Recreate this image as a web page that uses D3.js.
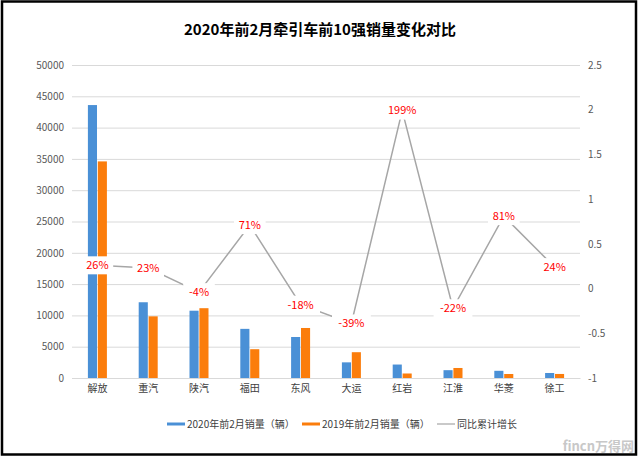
<!DOCTYPE html>
<html><head><meta charset="utf-8">
<script src="https://cdn.jsdelivr.net/npm/d3@7"></script>
<style>body{margin:0;background:#fff;}svg{display:block;}</style>
</head><body>
<svg id="c" width="640" height="458"></svg>
<script>
const categories = ["解放","重汽","陕汽","福田","东风","大运","红岩","江淮","华菱","徐工"];
const sales2020 = [43600,12100,10750,7850,6550,2500,2150,1250,1150,800];
const sales2019 = [34600,9850,11150,4600,7990,4120,720,1600,640,645];
const growth = [0.26,0.23,-0.04,0.71,-0.18,-0.39,1.99,-0.22,0.81,0.24];
const growthLabels = ["26%","23%","-4%","71%","-18%","-39%","199%","-22%","81%","24%"];
const leftTicks = [0,5000,10000,15000,20000,25000,30000,35000,40000,45000,50000];
const rightTicks = [-1,-0.5,0,0.5,1,1.5,2,2.5];
const legendLabels = ["2020年前2月销量（辆）","2019年前2月销量（辆）","同比累计增长"];
const title = "2020年前2月牵引车前10强销量变化对比";

const svg = d3.select("#c");
const font = "'Noto Sans CJK SC', 'Noto Sans', sans-serif";
const L = 72, R = 580, T = 65, B = 378;
const blue = "#4a90d6", orange = "#fb7d0c", gray = "#a6a6a6";

svg.append("rect").attr("x",0).attr("y",0).attr("width",640).attr("height",458).attr("fill","#fff");

const x = d3.scaleBand().domain(categories).range([L,R]);
const xs = d3.scaleBand().domain([0,1]).range([0,19]).paddingInner(0.08);
const yL = d3.scaleLinear().domain([0,50000]).range([B,T]);
const yR = d3.scaleLinear().domain([-1,2.5]).range([B,T]);

// grid
const gLeft = svg.append("g").attr("transform",`translate(${L},0)`)
  .call(d3.axisLeft(yL).tickValues(leftTicks).tickSize(-(R-L)).tickPadding(8).tickFormat(d3.format("d")));
gLeft.select(".domain").remove();
gLeft.selectAll(".tick line").attr("stroke","#d9d9d9").attr("stroke-width",1);
gLeft.selectAll(".tick text").attr("fill","#595959").style("font-family",font).style("font-size","10px");

const gRight = svg.append("g").attr("transform",`translate(${R},0)`)
  .call(d3.axisRight(yR).tickValues(rightTicks).tickSize(0).tickPadding(8).tickFormat(d => String(d)));
gRight.select(".domain").remove();
gRight.selectAll(".tick text").attr("fill","#595959").style("font-family",font).style("font-size","10px");

// bars
const groups = svg.append("g").selectAll("g").data(categories).join("g")
  .attr("transform",d => `translate(${x(d)+x.bandwidth()/2-9.5},0)`);
groups.append("rect").attr("x",xs(0)).attr("width",xs.bandwidth())
  .attr("y",(d,i)=>yL(sales2020[i])).attr("height",(d,i)=>B-yL(sales2020[i])).attr("fill",blue);
groups.append("rect").attr("x",xs(1)).attr("width",xs.bandwidth())
  .attr("y",(d,i)=>yL(sales2019[i])).attr("height",(d,i)=>B-yL(sales2019[i])).attr("fill",orange);

// x labels
const gx = svg.append("g").attr("transform",`translate(0,${B})`)
  .call(d3.axisBottom(x).tickSize(0).tickPadding(7));
gx.select(".domain").attr("stroke","#d9d9d9");
gx.selectAll(".tick text").attr("fill","#404040").style("font-family",font).style("font-size","10px");

// line
const line = d3.line().x((d,i)=>x(categories[i])+x.bandwidth()/2).y(d=>yR(d));
svg.append("path").datum(growth).attr("d",line).attr("fill","none").attr("stroke",gray).attr("stroke-width",1.5);

// labels with white boxes
const lab = svg.append("g").selectAll("g").data(growth).join("g")
  .attr("transform",(d,i)=>`translate(${x(categories[i])+x.bandwidth()/2},${yR(d)})`);
lab.append("rect").attr("x",(d,i)=>-(growthLabels[i].length*3.6+5)).attr("y",-9)
  .attr("width",(d,i)=>growthLabels[i].length*7.2+10).attr("height",18).attr("fill","#fff");
lab.append("text").text((d,i)=>growthLabels[i]).attr("text-anchor","middle").attr("dy","0.35em")
  .attr("fill","#ff0000").style("font-family",font).style("font-size","11px");

// title
svg.append("text").attr("x",320).attr("y",35).attr("text-anchor","middle").text(title)
  .attr("fill","#000").style("font-family",font).style("font-size","15px").style("font-weight","600");

// legend
const leg = svg.append("g").attr("transform","translate(0,424)");
const legItems = [{x:167,c:blue,w:3},{x:302,c:orange,w:3},{x:437,c:gray,w:1.2}];
legItems.forEach((it,i)=>{
  leg.append("line").attr("x1",it.x).attr("x2",it.x+18).attr("y1",0).attr("y2",0).attr("stroke",it.c).attr("stroke-width",it.w);
  leg.append("text").attr("x",it.x+20).attr("y",0).attr("dy","0.35em").text(legendLabels[i])
    .attr("fill","#404040").style("font-family",font).style("font-size","10px");
});

// watermark
svg.append("text").attr("x",634).attr("y",451).attr("text-anchor","end").text("fincn万得网")
  .attr("fill","#c8c8c8").style("font-family",font).style("font-size","13px").style("font-weight","700");

// frame
svg.append("rect").attr("x",2).attr("y",1.5).attr("width",634).attr("height",453).attr("fill","none")
  .attr("stroke","#000").attr("stroke-width",2.5);
</script>
</body></html>
